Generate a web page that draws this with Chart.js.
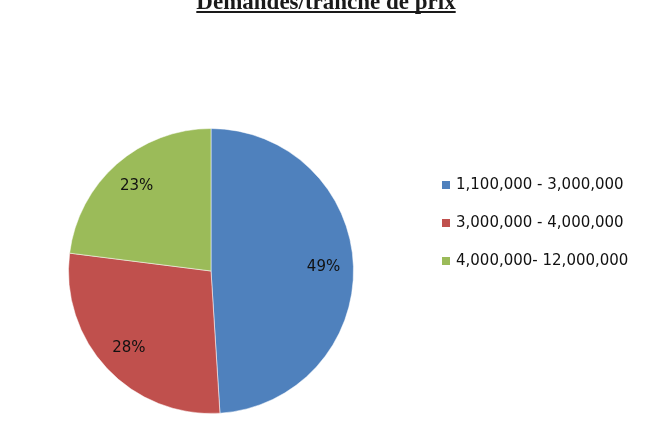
<!DOCTYPE html>
<html>
<head>
<meta charset="utf-8">
<script src="https://cdn.jsdelivr.net/npm/chart.js@4/dist/chart.umd.min.js"></script>
<style>
  html, body { margin: 0; padding: 0; background: #fff; }
  #wrap { width: 650px; height: 423px; }
</style>
</head>
<body>
<div id="wrap"><canvas id="chart" width="650" height="423"></canvas></div>
<script>
const title = 'Demandes/tranche de prix';
const priceRanges = ['1,100,000 - 3,000,000', '3,000,000 - 4,000,000', '4,000,000- 12,000,000'];
const shares = [49, 28, 23];
const sliceColors = ['#4f81bd', '#c0504d', '#9bbb59'];

// title is clipped at the top edge in the original, draw it by hand
const titlePlugin = {
  id: 'cutTitle',
  afterDraw(chart) {
    const ctx = chart.ctx;
    ctx.save();
    ctx.font = 'bold 23px "Liberation Serif", serif';
    ctx.fillStyle = '#1a1a1a';
    ctx.textAlign = 'center';
    ctx.textBaseline = 'alphabetic';
    const cx = 326;
    ctx.fillText(title, cx, 9);
    const w = ctx.measureText(title).width;
    ctx.fillRect(cx - w / 2, 11, w, 2);
    ctx.restore();
  }
};

const pctLabels = {
  id: 'pctLabels',
  afterDatasetsDraw(chart) {
    const ctx = chart.ctx;
    const meta = chart.getDatasetMeta(0);
    ctx.save();
    ctx.font = '15px "DejaVu Sans", sans-serif';
    ctx.fillStyle = '#111';
    ctx.textAlign = 'center';
    ctx.textBaseline = 'middle';
    meta.data.forEach((arc, i) => {
      const p = arc.getProps(['x', 'y', 'startAngle', 'endAngle', 'outerRadius'], true);
      const mid = (p.startAngle + p.endAngle) / 2;
      const r = p.outerRadius * 0.79;
      ctx.fillText(shares[i] + '%', p.x + Math.cos(mid) * r, p.y + Math.sin(mid) * r);
    });
    ctx.restore();
  }
};

const sideLegend = {
  id: 'sideLegend',
  afterDraw(chart) {
    const ctx = chart.ctx;
    ctx.save();
    ctx.font = '15px "DejaVu Sans", sans-serif';
    ctx.textBaseline = 'middle';
    ctx.textAlign = 'left';
    chart.data.labels.forEach((lab, i) => {
      const y = 185 + i * 38;
      ctx.fillStyle = sliceColors[i];
      ctx.fillRect(442, y - 4, 8, 8);
      ctx.fillStyle = '#111';
      ctx.fillText(lab, 456, y);
    });
    ctx.restore();
  }
};

new Chart(document.getElementById('chart'), {
  type: 'pie',
  data: {
    labels: priceRanges,
    datasets: [{
      data: shares,
      backgroundColor: sliceColors,
      borderColor: 'rgba(255,255,255,0.5)',
      borderWidth: 1
    }]
  },
  options: {
    responsive: false,
    animation: false,
    layout: { padding: { left: 68, right: 296, top: 128, bottom: 9 } },
    plugins: {
      legend: { display: false },
      tooltip: { enabled: false }
    }
  },
  plugins: [titlePlugin, pctLabels, sideLegend]
});
</script>
</body>
</html>
